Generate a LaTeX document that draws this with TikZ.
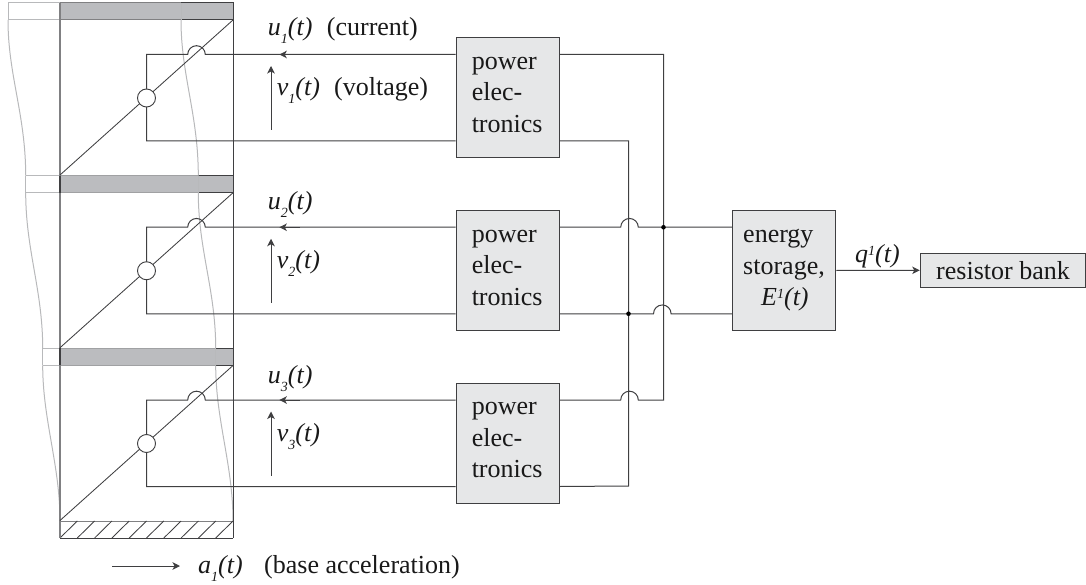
\documentclass[tikz,border=0pt]{standalone}
\usepackage{fontspec}
\setmainfont{Liberation Serif}
\usetikzlibrary{arrows.meta}
\definecolor{ink}{HTML}{3F3F41}
\definecolor{midgray}{HTML}{808082}
\definecolor{lightline}{HTML}{B8B9BB}
\definecolor{floorline}{HTML}{A0A1A3}
\definecolor{barfill}{HTML}{BBBCBF}
\definecolor{boxfill}{HTML}{E6E7E8}
\newcommand{\subd}[1]{\raisebox{-8pt}{\fontsize{14}{14}\selectfont\itshape #1}}
\newcommand{\supd}[1]{\raisebox{7pt}{\fontsize{14}{14}\selectfont\itshape #1}}
\newcommand{\lift}{\rule[-6pt]{0pt}{6pt}}
\tikzset{
  wire/.style={draw=ink,line width=1pt},
  slim/.style={draw=ink,line width=0.85pt},
  shapeline/.style={draw=lightline,line width=1pt},
  tip/.style={-{Stealth[length=7.5pt,width=7.5pt,inset=2pt]},line width=1pt,draw=ink,fill=ink},
  bar/.style={draw=ink,line width=1pt,fill=barfill},
  block/.style={draw=ink,line width=1pt,fill=boxfill,inner sep=0pt,text=black!90},
  pebox/.style={block,minimum width=103.5pt,minimum height=120.5pt,align=left,text width=72pt,font=\fontsize{26}{31.5}\selectfont},
  txt/.style={anchor=base west,inner sep=0pt,text=black!90,font=\fontsize{26}{31.5}\selectfont},
  joint/.style={circle,draw=ink,line width=0.9pt,fill=white,minimum size=18pt,inner sep=0pt},
  dot/.style={circle,fill=black,minimum size=4.6pt,inner sep=0pt}
}
\begin{document}
\begin{tikzpicture}[x=1pt,y=-1pt]
\useasboundingbox (0,0) rectangle (1086,585);
% solid floors
\foreach \i/\y in {1/3,2/175.7,3/348.4}{
  \path[bar] (60,\y) rectangle (233,\y+17);
}
% base
\draw[line width=1pt,draw=ink] (60,538) -- (233,538);
\draw[line width=1pt,draw=midgray] (60,521) -- (233,521);
\foreach \k in {0,...,9}{
  \draw[slim] (60+17.3*\k,538) -- (77.3+17.3*\k,521);
}
% deformed shape
\draw[shapeline] (8,20) -- (8,3) -- (60,3);
\draw[shapeline] (8,20) -- (60,20);
\draw[line width=1pt,draw=midgray] (60,3) -- (181,3) (60,20) -- (181,20);
\draw[shapeline] (181,3) -- (181,20);
\draw[shapeline] (25.7,175.7) -- (60,175.7) (25.7,192.7) -- (60,192.7) (25.7,175.7) -- (25.7,192.7);
\draw[line width=1pt,draw=floorline] (60,175.7) -- (198.3,175.7) (60,192.7) -- (198.3,192.7);
\draw[shapeline] (198.3,175.7) -- (198.3,192.7);
\draw[shapeline] (42.7,348.4) -- (60,348.4) (42.7,365.4) -- (60,365.4) (42.7,348.4) -- (42.7,365.4);
\draw[line width=1pt,draw=floorline] (60,348.4) -- (215.7,348.4) (60,365.4) -- (215.7,365.4);
\draw[shapeline] (215.7,348.4) -- (215.7,365.4);
\draw[shapeline] (8,20) .. controls (8,75) and (25.7,115) .. (25.7,175.7);
\draw[shapeline] (25.7,192.7) .. controls (25.7,250) and (42.7,290) .. (42.7,348.4);
\draw[shapeline] (42.7,365.4) .. controls (42.7,420) and (60,465) .. (60,521);
\draw[shapeline] (181,20) .. controls (181,75) and (198.3,115) .. (198.3,175.7);
\draw[shapeline] (198.3,192.7) .. controls (198.3,250) and (215.7,290) .. (215.7,348.4);
\draw[shapeline] (215.7,365.4) .. controls (215.7,420) and (233,465) .. (233,521);
% frame
\draw[line width=1.2pt,draw=midgray] (60,3) -- (60,538);
\draw[line width=1pt,draw=ink] (233,3) -- (233,538);
\draw[line width=1.4pt,draw=ink] (60,175.7) -- (60,192.7) (60,348.4) -- (60,365.4);
% storey assemblies
\foreach \i/\off/\ub in {1/0/36,2/172.75/210,3/345.5/383.3}{
  \begin{scope}[shift={(0,\off)}]
    \coordinate (dbl\i) at (60,175);
    \coordinate (dtr\i) at (233,20);
    \draw[slim] (dbl\i) -- (dtr\i);
    \node[pebox] (pe\i) at (507.75,97.75) {power\\elec-\\tronics\lift};
    \coordinate (ti\i) at (pe\i.west |- 0,54.5);
    \coordinate (bi\i) at (pe\i.west |- 0,141);
    \coordinate (to\i) at (pe\i.east |- 0,54.5);
    \coordinate (bo\i) at (pe\i.east |- 0,141);
    \coordinate (hop\i) at (205.3,54.5);
    \coordinate (lt\i) at (146.5,54.5);
    \coordinate (lb\i) at (146.5,141);
    \draw[wire] (ti\i) -- (hop\i) arc[start angle=0,end angle=180,radius=8.8pt] -- (lt\i) -- (lb\i) -- (bi\i);
    \node[joint] (c\i) at (146.5,98) {};
    \coordinate (uend\i) at (279.3,54.5);
    \draw[tip] (300,54.5) -- (uend\i);
    \coordinate (vs\i) at (271,130);
    \coordinate (ve\i) at (271,66);
    \draw[tip] (vs\i) -- (ve\i);
    \node[txt] (v\i) at (276.7,96) {\textit{v}\subd{\i}\textit{(t)}};
  \end{scope}
  \node[txt] (u\i) at (267.7,\ub) {\textit{u}\subd{\i}\textit{(t)}};
}
\node[txt] (cur) at (326.7,36) {(current)};
\node[txt] (vol) at (334,96) {(voltage)};
% energy storage and resistor
\node[block,minimum width=103.5pt,minimum height=120.5pt,align=left,text width=82pt,font=\fontsize{26}{31.5}\selectfont] (store) at (784.2,270.5)
  {energy\\storage,\\\hspace*{18pt}\textit{E}\supd{1}\textit{(t)}\lift};
\node[block,minimum width=165.5pt,minimum height=34pt,font=\fontsize{26}{31.5}\selectfont] (res) at (1003,270.3) {resistor bank};
\draw[tip] (store.east) -- (res.west);
\node[txt] (q) at (855,262) {\textit{q}\supd{1}\textit{(t)}};
% bus wires
\coordinate (busa) at (663.5,54.5);
\coordinate (busb) at (663.5,400);
\coordinate (busc) at (628.5,141);
\coordinate (busd) at (628.5,486);
\draw[wire] (to1) -- (busa) -- (busb) -- (638.3,400) arc[start angle=0,end angle=180,radius=8.8pt] -- (to3);
\draw[wire] (bo1) -- (busc) -- (busd) -- (bo3);
\coordinate (sa) at (store.west |- 0,227.25);
\coordinate (sb) at (store.west |- 0,313.75);
\draw[wire] (sa) -- (638.3,227.25) arc[start angle=0,end angle=180,radius=8.8pt] -- (to2);
\draw[wire] (sb) -- (671.1,313.75) arc[start angle=0,end angle=180,radius=8.8pt] -- (bo2);
\node[dot] (d1) at (663.5,227.25) {};
\node[dot] (d2) at (628.5,313.75) {};
% base acceleration
\coordinate (as) at (112,566);
\coordinate (ae) at (180,566);
\draw[tip] (as) -- (ae);
\node[txt] (a) at (198,573) {\textit{a}\subd{1}\textit{(t)}};
\node[txt] (ba) at (264,573) {(base acceleration)};
\end{tikzpicture}
\end{document}
